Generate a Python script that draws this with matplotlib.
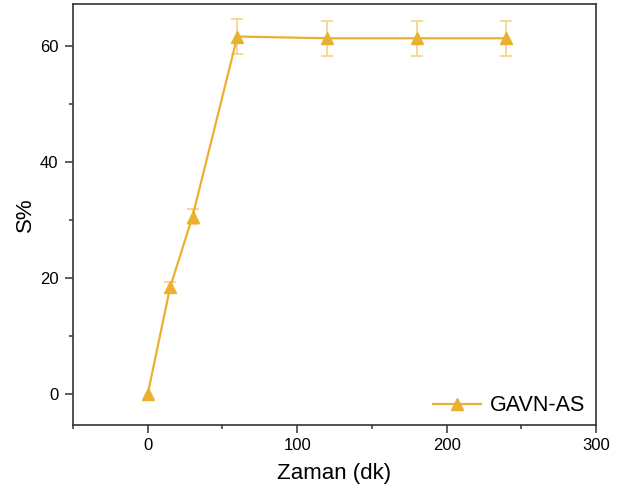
import matplotlib
matplotlib.use("Agg")
import matplotlib.pyplot as plt
from matplotlib.ticker import MultipleLocator

plt.rcParams['font.family'] = ['Liberation Sans', 'DejaVu Sans']

time_min = [0, 15, 30, 60, 120, 180, 240]
s_percent = [0.0, 18.4, 30.6, 61.6, 61.3, 61.3, 61.3]
s_err = [0.0, 1.0, 1.3, 3.0, 3.0, 3.0, 3.0]
series_label = "GAVN-AS"
x_label = "Zaman (dk)"
y_label = "S%"

line_color = "#EAB12E"
err_color = "#F6D58E"

fig = plt.figure(figsize=(6.2, 4.95), dpi=100)
ax = fig.add_axes([0.1177, 0.1414, 0.8436, 0.8505])

err_x = [t for t, e in zip(time_min, s_err) if e > 0]
err_y = [s for s, e in zip(s_percent, s_err) if e > 0]
err_v = [e for e in s_err if e > 0]
ax.errorbar(err_x, err_y, yerr=err_v, fmt='none', ecolor=err_color,
            elinewidth=1.3, capsize=4, capthick=1.3, zorder=2)
ax.plot(time_min, s_percent, color=line_color, lw=1.6, marker='^',
        markersize=9, label=series_label, zorder=3)

ax.set_xlim(-50, 300)
ax.set_ylim(-5.3, 67.2)
ax.xaxis.set_major_locator(MultipleLocator(100))
ax.xaxis.set_minor_locator(MultipleLocator(50))
ax.yaxis.set_major_locator(MultipleLocator(20))
ax.yaxis.set_minor_locator(MultipleLocator(10))
ax.tick_params(axis='both', which='major', direction='out', length=6, width=1.1,
               labelsize=12, colors='#333333', labelcolor='black')
ax.tick_params(axis='y', which='major', pad=4.5)
ax.tick_params(axis='both', which='minor', direction='out', length=3, width=1.1,
               colors='#333333')
ax.tick_params(top=False, right=False, which='both')
for sp in ax.spines.values():
    sp.set_linewidth(1.2)
    sp.set_color('#333333')

ax.set_xlabel(x_label, fontsize=16, labelpad=7)
ax.set_ylabel(y_label, fontsize=16, labelpad=3)

ax.legend(loc='lower right', frameon=False, fontsize=15.5, handlelength=2.2,
          handletextpad=0.4, borderaxespad=0.0, bbox_to_anchor=(0.995, 0.0))

fig.savefig("out.png", dpi=100)
